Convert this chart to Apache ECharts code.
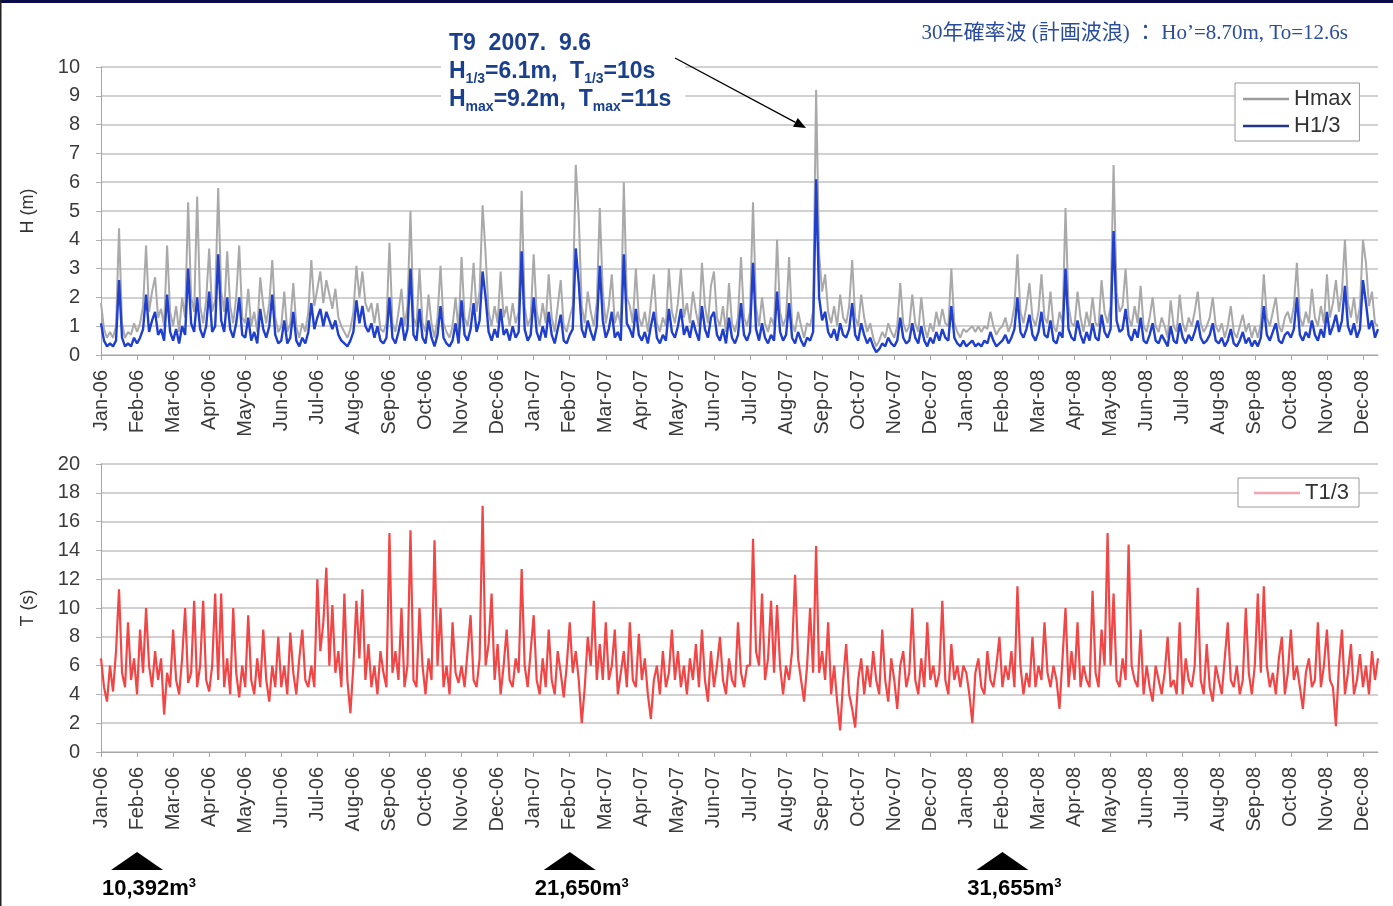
<!DOCTYPE html>
<html><head><meta charset="utf-8">
<script src="https://cdn.jsdelivr.net/npm/echarts@6/dist/echarts.min.js"></script>
<style>html,body{margin:0;padding:0;background:#fff}#c{width:1393px;height:906px}</style>
</head><body><div id="c"></div>
<script>
// ---- tick labels ----
var monthNames = ['Jan','Feb','Mar','Apr','May','Jun','Jul','Aug','Sep','Oct','Nov','Dec'];
var yearLabels = ['06','07','08'];
var samplesPerMonth = 12;
var hTicks = [0,1,2,3,4,5,6,7,8,9,10];
var tTicks = [0,2,4,6,8,10,12,14,16,18,20];

// ---- series values (≈2.5-day samples, Jan-2006 .. mid Dec-2008), one row per month ----
var h13 = [
 1.1,0.5,0.3,0.4,0.3,0.5,2.6,0.6,0.3,0.4,0.3,0.6,
 0.4,0.6,0.9,2.1,0.8,1.2,1.5,0.7,0.9,0.5,2.1,0.8,
 0.5,0.9,0.4,1.0,0.7,3.0,1.1,0.8,2.0,0.9,0.6,1.0,
 2.2,0.8,1.0,3.5,1.2,0.8,2.0,0.9,0.6,1.1,2.0,0.7,
 0.6,1.3,0.5,0.8,0.4,1.6,0.9,0.6,1.0,2.1,0.7,0.4,
 0.5,1.2,0.4,0.6,1.5,0.5,0.3,0.6,0.4,0.8,1.8,0.9,
 1.3,1.6,1.0,1.5,1.2,0.9,1.2,0.7,0.5,0.4,0.3,0.5,
 0.8,1.9,1.1,1.7,1.0,0.8,1.1,0.6,1.0,0.5,0.4,0.6,
 2.0,0.6,0.4,0.8,1.3,0.5,0.9,3.0,0.7,0.5,1.6,0.6,
 0.4,1.2,0.6,0.3,0.7,1.7,0.6,0.4,0.3,0.5,1.1,0.4,
 1.9,0.7,0.5,0.9,1.8,0.8,1.2,2.9,2.0,0.8,0.5,0.9,
 0.6,1.6,0.7,0.9,0.5,1.0,0.6,0.8,3.6,0.9,0.5,0.7,
 2.0,0.8,0.5,1.0,0.6,1.5,0.7,0.4,0.9,1.4,0.5,0.4,
 0.7,0.9,3.7,2.5,0.9,0.6,1.2,0.8,0.5,1.0,3.1,1.2,
 0.6,0.9,1.5,0.6,0.8,0.5,3.5,1.1,0.9,0.6,1.6,0.7,
 0.5,0.8,0.4,1.0,1.5,0.6,0.4,0.7,0.5,1.6,0.8,0.6,
 1.0,1.6,0.7,1.0,0.6,1.2,0.8,0.5,1.7,0.9,0.6,1.3,
 1.5,0.7,0.5,0.9,0.4,1.3,0.6,0.4,0.7,1.8,0.7,0.5,
 0.8,3.2,0.9,0.5,1.1,0.6,0.4,0.7,0.5,2.2,0.8,0.5,
 0.7,1.8,0.6,0.4,0.8,0.5,0.3,0.6,0.5,0.8,6.1,2.0,
 1.2,1.5,0.8,0.6,0.9,0.5,1.1,0.7,0.6,0.9,1.8,0.7,
 0.5,1.1,0.7,0.4,0.6,0.3,0.1,0.2,0.4,0.3,0.6,0.4,
 0.3,0.5,1.3,0.6,0.4,0.5,1.1,0.6,0.4,1.0,0.5,0.3,
 0.6,0.4,0.8,0.5,0.9,0.6,0.5,1.7,0.6,0.4,0.3,0.5,
 0.3,0.4,0.5,0.3,0.4,0.3,0.5,0.4,0.8,0.5,0.3,0.4,
 0.5,0.7,0.4,0.6,0.9,2.0,0.8,0.6,0.9,1.4,0.7,0.5,
 0.8,1.5,0.7,0.6,1.2,0.5,0.4,0.8,0.6,3.0,0.9,0.6,
 0.5,1.2,0.7,0.4,0.8,0.5,1.1,0.6,0.5,1.4,0.8,0.6,
 0.9,4.3,1.2,0.8,0.9,1.6,0.7,0.5,0.9,0.6,1.3,0.5,
 0.4,0.7,1.1,0.5,0.4,0.7,0.5,0.3,1.0,0.5,0.4,1.1,
 0.6,0.4,0.7,0.5,0.8,1.2,0.6,0.4,0.5,0.7,1.1,0.5,
 0.4,0.6,0.3,0.5,0.9,0.4,0.3,0.5,0.8,0.4,0.6,0.3,
 0.5,0.3,0.6,1.7,0.7,0.5,0.8,1.1,0.5,0.4,0.7,0.8,
 0.6,0.9,2.0,0.7,0.5,0.8,0.6,1.2,0.7,0.5,0.9,0.6,
 1.5,0.7,1.0,1.4,0.8,1.2,2.4,1.0,0.7,1.1,0.6,0.9,
 2.6,1.8,0.9,1.2,0.6,0.9
];
var hmax = [
 1.8,0.9,0.6,0.8,0.6,1.0,4.4,1.1,0.6,0.8,0.7,1.1,
 0.8,1.1,1.7,3.8,1.5,2.2,2.7,1.3,1.6,1.0,3.8,1.5,
 1.0,1.7,0.8,2.0,1.3,5.3,2.0,1.5,5.5,1.7,1.1,1.9,
 3.7,1.5,1.9,5.8,2.2,1.5,3.6,1.7,1.1,2.0,3.8,1.3,
 1.1,2.3,1.0,1.5,0.8,2.7,1.7,1.1,1.8,3.3,1.3,0.8,
 1.0,2.2,0.8,1.1,2.5,1.0,0.6,1.1,0.8,1.5,3.3,1.7,
 2.3,2.9,1.8,2.6,2.1,1.6,2.3,1.3,1.0,0.8,0.6,0.9,
 1.5,3.1,2.0,2.9,1.8,1.5,1.8,1.1,1.8,0.9,0.8,1.1,
 3.9,1.1,0.8,1.5,2.3,1.0,1.7,5.0,1.3,1.0,3.0,1.1,
 0.8,2.1,1.1,0.6,1.3,3.1,1.1,0.8,0.6,1.0,2.0,0.8,
 3.4,1.3,1.0,1.7,3.2,1.5,2.2,5.2,3.5,1.5,1.0,1.7,
 1.1,2.9,1.3,1.7,1.0,1.8,1.1,1.5,5.7,1.7,1.0,1.3,
 3.5,1.5,1.0,1.8,1.1,2.8,1.3,0.8,1.7,2.6,1.0,0.8,
 1.3,1.7,6.6,4.8,1.7,1.1,2.2,1.5,1.0,1.8,5.1,2.2,
 1.1,1.7,2.8,1.1,1.5,1.0,6.0,2.0,1.7,1.1,3.0,1.3,
 1.0,1.5,0.8,1.8,2.8,1.1,0.8,1.3,1.0,3.0,1.5,1.1,
 1.8,3.0,1.3,1.8,1.1,2.2,1.5,1.0,3.2,1.7,1.1,2.4,
 2.9,1.3,1.0,1.7,0.8,2.5,1.1,0.8,1.3,3.4,1.3,1.0,
 1.5,5.3,1.7,1.0,2.0,1.1,0.8,1.3,1.0,4.0,1.5,1.0,
 1.3,3.4,1.1,0.8,1.5,1.0,0.6,1.1,1.0,1.5,9.2,3.5,
 2.2,2.8,1.5,1.1,1.7,1.0,2.1,1.3,1.1,1.7,3.3,1.3,
 1.0,2.1,1.3,0.8,1.1,0.6,0.3,0.5,0.8,0.6,1.1,0.8,
 0.6,1.0,2.5,1.1,0.8,1.0,2.1,1.1,0.8,2.0,1.0,0.6,
 1.1,0.8,1.5,1.0,1.6,1.1,1.0,3.0,1.1,0.8,0.6,0.9,
 0.8,0.9,1.0,0.8,1.0,0.8,1.0,0.9,1.5,1.0,0.7,0.9,
 1.0,1.3,0.8,1.1,1.7,3.5,1.5,1.1,1.7,2.5,1.3,1.0,
 1.5,2.8,1.3,1.1,2.2,1.0,0.8,1.5,1.1,5.1,1.7,1.1,
 1.0,2.2,1.3,0.8,1.5,1.0,2.0,1.1,1.0,2.6,1.5,1.1,
 1.7,6.6,2.2,1.5,1.7,3.0,1.3,1.0,1.7,1.1,2.4,1.0,
 0.8,1.3,2.0,1.0,0.8,1.3,1.0,0.6,1.9,1.0,0.8,2.1,
 1.1,0.8,1.3,1.0,1.5,2.2,1.1,0.8,1.0,1.3,2.0,1.0,
 0.8,1.1,0.6,1.0,1.7,0.8,0.6,1.0,1.4,0.8,1.1,0.6,
 1.0,0.6,1.1,2.8,1.3,1.0,1.5,2.0,1.0,0.8,1.3,1.5,
 1.1,1.7,3.2,1.3,1.0,1.5,1.1,2.3,1.3,1.0,1.7,1.1,
 2.8,1.3,1.8,2.6,1.5,2.2,4.0,1.8,1.3,2.0,1.1,1.7,
 4.0,3.2,1.7,2.2,1.1,1.0
];
var t13 = [
 6.5,4.5,3.5,6.0,4.2,7.0,11.3,5.5,4.5,9.0,5.0,6.5,
 4.0,8.5,5.5,10.0,6.0,4.5,7.0,5.0,6.5,2.6,5.5,4.5,
 8.5,5.0,4.0,6.5,10.0,4.8,5.5,10.5,4.5,6.0,10.5,5.0,
 4.2,6.0,11.0,5.0,11.0,4.5,6.5,4.0,10.0,5.5,3.8,6.0,
 4.5,9.5,5.0,4.0,6.5,4.5,8.5,5.0,3.5,6.0,4.5,8.0,
 4.5,6.0,4.0,8.3,5.5,4.0,6.5,8.5,5.0,4.5,6.0,4.5,
 12.0,7.0,9.0,12.8,6.0,10.2,5.5,7.0,4.5,11.0,5.0,2.7,
 6.0,10.5,6.5,11.3,5.0,7.5,4.5,6.0,4.0,7.0,5.5,4.5,
 15.2,5.5,7.0,5.0,10.0,4.5,6.0,15.4,5.0,4.5,10.0,6.0,
 4.0,6.5,5.0,14.7,6.0,10.0,4.5,6.0,4.0,9.0,5.5,4.8,
 6.0,4.5,7.0,9.5,5.0,4.5,6.5,17.1,6.0,7.5,11.0,5.0,
 7.5,4.0,6.0,8.5,5.0,4.5,6.5,5.5,12.7,6.0,4.5,7.0,
 9.5,5.0,4.0,6.5,4.5,8.5,5.0,4.0,7.0,5.5,3.8,6.0,
 9.0,5.5,7.0,5.0,2.0,4.5,8.0,6.0,10.5,5.0,7.5,5.0,
 9.0,5.0,6.0,8.5,4.0,5.5,7.0,4.5,9.0,5.0,4.5,8.2,
 5.0,6.5,4.0,2.3,5.0,6.0,4.0,7.0,4.5,5.5,8.5,5.0,
 7.0,4.5,6.0,4.0,6.5,5.0,7.5,4.5,8.5,5.0,3.5,7.0,
 4.5,6.0,8.0,5.0,4.0,6.5,5.0,4.5,9.0,5.5,4.5,6.0,
 6.0,14.8,7.0,6.0,11.0,5.0,6.5,10.5,5.5,10.2,6.0,4.0,
 6.0,5.0,7.0,12.3,6.5,5.0,3.5,6.0,10.0,5.5,14.3,5.5,
 7.0,5.0,9.0,4.0,6.0,3.5,1.5,5.0,7.5,4.0,3.0,1.7,
 5.0,6.5,4.0,6.0,4.5,7.0,5.0,4.0,8.5,5.0,3.5,6.5,
 5.0,3.0,6.0,7.0,4.5,5.5,10.0,5.0,4.0,6.5,4.5,9.0,
 5.0,6.0,4.5,5.5,10.5,5.0,4.0,7.5,5.0,6.0,4.5,6.0,
 5.5,4.0,2.0,5.5,6.5,4.5,4.0,7.0,5.0,4.5,6.0,8.0,
 4.5,6.0,5.0,7.0,4.5,11.5,6.0,4.0,5.5,4.5,8.0,4.5,
 6.0,5.0,9.0,5.5,4.5,6.0,5.0,3.0,6.5,10.0,4.5,7.0,
 5.0,9.0,4.5,6.0,5.0,4.5,11.2,5.5,4.5,8.5,6.0,15.2,
 6.0,11.0,5.0,4.5,6.5,5.0,14.4,6.0,5.0,4.5,8.5,4.0,
 6.0,4.5,3.5,6.0,5.0,4.0,5.5,8.0,4.5,5.0,4.0,9.0,
 4.0,6.5,5.0,4.5,6.0,11.4,5.0,4.0,7.5,4.5,3.5,6.0,
 5.0,4.0,6.5,9.0,5.0,4.5,6.0,4.0,5.0,10.0,5.5,4.0,
 6.0,11.0,5.5,11.5,6.0,4.5,5.5,4.0,6.5,8.0,4.0,5.5,
 8.5,5.0,6.0,4.5,3.0,5.5,6.5,4.5,5.0,9.0,4.5,6.0,
 8.5,5.0,4.5,1.8,6.0,8.5,4.0,5.5,7.5,4.0,5.0,6.8,
 4.5,6.0,4.0,7.0,5.0,6.5
];

// ---- annotations ----
var volumeLabels = ['10,392', '21,650', '31,655'];
var volumeSampleIdx = [12, 156, 300];   // start of Feb of each year

// categories built from month tick labels
var monthLabels = [];
yearLabels.forEach(function(y){ monthNames.forEach(function(m){ monthLabels.push(m + '-' + y); }); });
var xCats = [];
for (var i = 0; i < h13.length; i++) {
  var mi = Math.floor(i / samplesPerMonth), k = i % samplesPerMonth;
  xCats.push(monthLabels[mi] + (k ? '|' + k : ''));
}

var FONT = 'Arial, "Liberation Sans", Helvetica, sans-serif';
var labelColor = '#3a3a3a';

function xAxisDef(gi) {
  return {
    type: 'category', gridIndex: gi, data: xCats, boundaryGap: false,
    axisLine: { lineStyle: { color: '#a6a6a6', width: 1 } },
    axisTick: { interval: samplesPerMonth - 1, length: 5, lineStyle: { color: '#a6a6a6' } },
    axisLabel: { interval: samplesPerMonth - 1, rotate: 90, margin: 15,
      fontFamily: FONT, fontSize: 20, color: labelColor,
      formatter: function (v) { return v.split('|')[0]; } },
    splitLine: { show: false }
  };
}
function yAxisDef(gi, ticks, name) {
  return {
    type: 'value', gridIndex: gi, min: ticks[0], max: ticks[ticks.length - 1],
    interval: ticks[1] - ticks[0],
    name: name, nameLocation: 'middle', nameGap: 64,
    nameTextStyle: { fontFamily: FONT, fontSize: 18, color: '#333' },
    axisLine: { show: true, lineStyle: { color: '#a6a6a6' } },
    axisTick: { show: true, length: 5, lineStyle: { color: '#b0b0b0' } },
    axisLabel: { fontFamily: FONT, fontSize: 20, color: labelColor, margin: 21 },
    splitLine: { lineStyle: { color: '#c2c2c2', width: 1.6 } }
  };
}

var chart = echarts.init(document.getElementById('c'), null, { renderer: 'canvas' });
var option = {
  animation: false,
  backgroundColor: '#fff',
  grid: [
    { left: 101, right: 15, top: 67, height: 288 },
    { left: 101, right: 15, top: 464, height: 288 }
  ],
  xAxis: [xAxisDef(0), xAxisDef(1)],
  yAxis: [yAxisDef(0, hTicks, 'H (m)'), yAxisDef(1, tTicks, 'T (s)')],
  legend: [
    { orient: 'vertical', left: 1235, top: 83, itemWidth: 46, itemHeight: 2.5, icon: 'rect',
      itemGap: 5, padding: [5, 8, 4, 8], backgroundColor: '#fff',
      borderColor: '#9a9a9a', borderWidth: 1, borderRadius: 0,
      textStyle: { fontFamily: FONT, fontSize: 22, color: '#333' },
      data: [ { name: 'Hmax', itemStyle: { color: '#9c9c9c' } },
              { name: 'H1/3', itemStyle: { color: '#25358c' } } ] },
    { orient: 'vertical', left: 1238, top: 478, itemWidth: 46, itemHeight: 2.5, icon: 'rect',
      padding: [4, 10, 3, 16], backgroundColor: '#fff',
      borderColor: '#9a9a9a', borderWidth: 1, borderRadius: 0,
      textStyle: { fontFamily: FONT, fontSize: 22, color: '#333' },
      data: [ { name: 'T1/3', itemStyle: { color: '#f4a4ae' } } ] }
  ],
  series: [
    { name: 'Hmax', type: 'line', xAxisIndex: 0, yAxisIndex: 0, data: hmax,
      showSymbol: false, symbol: 'none', lineStyle: { color: '#a9a9a9', width: 2 }, z: 2 },
    { name: 'H1/3', type: 'line', xAxisIndex: 0, yAxisIndex: 0, data: h13,
      showSymbol: false, symbol: 'none', lineStyle: { color: '#1f3fcc', width: 2.4 }, z: 3 },
    { name: 'T1/3', type: 'line', xAxisIndex: 1, yAxisIndex: 1, data: t13,
      showSymbol: false, symbol: 'none', lineStyle: { color: '#f24646', width: 2.2 }, z: 3 }
  ]
};
chart.setOption(option);

// ---- graphic annotations ----
var g = [];
g.push({ type: 'rect', z: 200, shape: { x: 0, y: 0, width: 1393, height: 3 }, style: { fill: '#0c0c4a' } });
g.push({ type: 'rect', z: 200, shape: { x: 0, y: 0, width: 1.5, height: 906 }, style: { fill: '#222' } });
g.push({ type: 'text', z: 200, x: 1348, y: 33,
  style: { text: '30年確率波 (計画波浪) ： Ho’=8.70m, To=12.6s', fill: '#2a4c9c',
    font: '21px "Liberation Serif", "DejaVu Serif", "Noto Sans CJK JP"',
    textAlign: 'right', textVerticalAlign: 'middle' } });
var subS = { fontSize: 14, fontWeight: 'bold', fontFamily: FONT, fill: '#1a3f8c', lineHeight: 14, verticalAlign: 'bottom' };
var mainS = { fontSize: 23, fontWeight: 'bold', fontFamily: FONT, fill: '#1a3f8c', lineHeight: 28 };
g.push({ type: 'text', z: 200, x: 441, y: 30,
  style: { text: '{m|T9  2007.  9.6}\n{m|H}{s|1/3}{m|=6.1m,  T}{s|1/3}{m|=10s}\n{m|H}{s|max}{m|=9.2m,  T}{s|max}{m|=11s}',
    rich: { m: mainS, s: subS }, backgroundColor: '#fff', padding: [0, 14, 0, 8] } });
// arrow to the T9 spike
var tip = [806, 128], from = [675, 58];
var dx = tip[0] - from[0], dy = tip[1] - from[1], L = Math.sqrt(dx * dx + dy * dy);
var ux = dx / L, uy = dy / L, hl = 12, hw = 5;
g.push({ type: 'line', z: 201, shape: { x1: from[0], y1: from[1], x2: tip[0] - ux * hl, y2: tip[1] - uy * hl },
  style: { stroke: '#000', lineWidth: 1.3 } });
g.push({ type: 'polygon', z: 201, shape: { points: [tip,
  [tip[0] - ux * hl - uy * hw, tip[1] - uy * hl + ux * hw],
  [tip[0] - ux * hl + uy * hw, tip[1] - uy * hl - ux * hw]] }, style: { fill: '#000' } });
// volume markers under the T axis
volumeSampleIdx.forEach(function (idx, j) {
  var px = chart.convertToPixel({ xAxisIndex: 1 }, idx);
  g.push({ type: 'polygon', z: 200, shape: { points: [[px, 852], [px - 26, 870], [px + 26, 870]] }, style: { fill: '#000' } });
  g.push({ type: 'text', z: 200, x: px + 12, y: 889,
    style: { text: '{a|' + volumeLabels[j] + 'm}{b|3}', textAlign: 'center', textVerticalAlign: 'middle',
      rich: { a: { fontSize: 22, fontWeight: 'bold', fontFamily: FONT, fill: '#000', lineHeight: 24 },
              b: { fontSize: 13, fontWeight: 'bold', fontFamily: FONT, fill: '#000', lineHeight: 13, verticalAlign: 'top' } } } });
});
chart.setOption({ graphic: g });
</script></body></html>
